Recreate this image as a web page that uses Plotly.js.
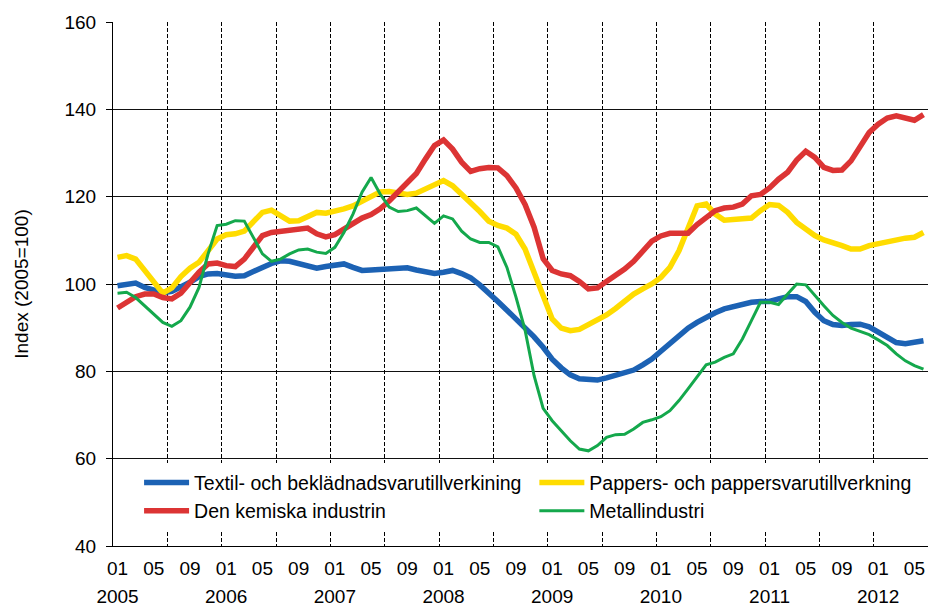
<!DOCTYPE html>
<html><head><meta charset="utf-8">
<script src="https://cdn.plot.ly/plotly-3.0.1.min.js"></script>
<style>html,body{margin:0;padding:0;background:#fff}</style>
</head><body>
<div id="chart" style="width:929px;height:607px"></div>
<script>
const years = ['2005','2006','2007','2008','2009','2010','2011','2012'];
const tickMonths = ['01','05','09'];
const seriesNames = [
  'Textil- och beklädnadsvarutillverkining',
  'Pappers- och pappersvarutillverkning',
  'Den kemiska industrin',
  'Metallindustri'
];
const textil = [99.6,100.0,100.2,99.2,98.5,98.0,98.3,99.2,100.4,101.7,
 102.3,102.4,102.1,101.8,101.9,102.7,103.8,104.7,105.3,105.2,
 104.7,104.0,103.6,104.0,104.4,104.6,103.8,103.1,103.2,103.4,
 103.6,103.8,103.7,103.2,102.7,102.4,102.7,103.1,102.4,101.4,
 99.8,98.1,96.0,94.0,92.0,90.0,87.9,85.5,82.8,80.8,
 79.2,78.3,78.0,78.0,78.5,79.0,79.5,80.3,81.5,82.8,
 84.6,86.4,88.2,89.9,91.2,92.4,93.4,94.3,94.8,95.4,
 95.8,96.0,96.0,96.6,97.1,97.1,96.0,93.5,91.6,90.7,
 90.5,90.7,90.8,90.2,88.9,87.6,86.6,86.3,86.6,87.0];
const pappers = [106.1,106.5,105.7,103.1,100.0,97.9,99.1,101.7,103.6,105.0,
 107.6,110.3,111.3,111.5,112.1,114.4,116.4,116.9,115.6,114.4,
 114.5,115.4,116.4,116.2,116.6,117.2,117.9,118.9,120.2,121.1,
 121.2,120.9,120.5,120.8,121.8,122.7,123.7,122.5,120.6,118.5,
 116.6,114.4,113.4,112.8,111.4,108.0,102.7,96.6,92.0,89.9,
 89.3,89.6,90.6,91.6,92.9,94.4,96.2,97.7,98.9,100.0,
 101.5,103.8,107.6,113.0,117.9,118.3,116.0,114.6,114.7,114.7,
 115.1,116.8,118.2,118.0,116.4,114.1,112.6,111.1,110.1,109.6,
 108.8,108.0,108.0,108.8,109.3,109.8,110.1,110.5,110.7,111.8];
const kemiska = [94.5,95.8,97.1,97.7,97.7,96.9,96.6,97.9,100.4,102.7,
 104.6,104.8,104.2,104.0,105.7,108.5,111.1,111.8,112.1,112.2,
 112.6,112.8,111.5,110.8,111.3,112.6,114.1,115.1,115.9,117.2,
 119.0,121.0,123.1,125.3,128.6,131.7,133.0,130.9,127.9,125.8,
 126.4,126.7,126.6,124.8,122.0,118.2,113.0,105.8,103.1,102.3,
 101.9,100.6,98.9,99.1,100.6,101.9,103.4,105.2,107.6,109.8,
 111.0,111.6,111.6,111.6,113.6,115.3,116.8,117.4,117.6,118.3,
 120.2,120.5,122.0,124.0,125.6,128.4,130.4,129.0,126.7,126.0,
 126.1,128.2,131.7,134.7,136.6,138.0,138.5,138.0,137.5,138.8];
const metall = [97.9,98.1,96.9,95.0,93.3,91.2,90.3,91.6,94.7,99.2,
 106.9,113.4,113.7,114.5,114.4,110.7,106.9,105.2,105.7,106.9,
 107.8,108.0,107.3,107.0,108.4,111.8,116.0,121.0,124.4,120.6,
 117.6,116.6,116.8,117.4,115.6,113.9,115.6,114.9,112.1,110.3,
 109.5,109.5,108.5,103.8,97.0,89.5,79.0,71.5,68.7,66.4,
 64.1,62.2,61.8,63.0,64.9,65.5,65.6,66.8,68.3,68.9,
 69.6,71.0,73.3,76.0,78.8,81.5,82.1,83.2,84.0,87.4,
 91.6,95.8,95.8,95.3,97.7,100.0,99.8,97.3,95.0,92.8,
 91.2,89.9,89.2,88.4,87.2,85.9,84.0,82.4,81.3,80.5];
const colors = ['#1c62b4','#ffdc00','#dc3434','#14a84c'];
const widths = [5.5,5.5,5.5,3];
const legendIds = ['legend','legend2','legend','legend2'];

const n = textil.length;
const idx = textil.map((_, i) => i);
const monthTickVals = [], monthTickText = [], yearTickVals = [];
years.forEach((yr, k) => {
  tickMonths.forEach(m => {
    const i = k * 12 + (parseInt(m, 10) - 1);
    if (i < n) { monthTickVals.push(i); monthTickText.push(m); }
  });
  yearTickVals.push(k * 12);
});

const FONT = 'Liberation Sans, Arial, sans-serif';
const series = [textil, pappers, kemiska, metall];
const traces = series.map((s, k) => ({
  type: 'scatter', mode: 'lines', x: idx, y: s, name: seriesNames[k],
  legend: legendIds[k],
  line: {color: colors[k], width: widths[k]}
}));
// empty helper traces so the overlay axes (dashed grid, year labels) are drawn
traces.unshift({type: 'scatter', mode: 'lines', x: [null], y: [null], xaxis: 'x2', showlegend: false, hoverinfo: 'skip'});
traces.unshift({type: 'scatter', mode: 'lines', x: [null], y: [null], xaxis: 'x3', showlegend: false, hoverinfo: 'skip'});

const legendBase = {orientation: 'v', xanchor: 'left', yanchor: 'top', y: 0.158,
  bgcolor: '#fff', itemwidth: 45, tracegroupgap: 0,
  font: {family: FONT, size: 19.5, color: '#000'}};

const xr = [-0.5, n - 0.5];
const layout = {
  width: 929, height: 607,
  margin: {l: 113, r: 1, t: 22, b: 61},
  paper_bgcolor: '#fff', plot_bgcolor: '#fff',
  font: {family: FONT, size: 19, color: '#000'},
  showlegend: true,
  legend: Object.assign({}, legendBase, {x: 0.032}),
  legend2: Object.assign({}, legendBase, {x: 0.517}),
  xaxis: {range: xr, tickmode: 'array', tickvals: monthTickVals, ticktext: monthTickText,
    showgrid: false, zeroline: false, showline: true, linecolor: '#000', linewidth: 1,
    ticks: '', ticklabelstandoff: 5, tickfont: {size: 19}},
  xaxis2: {overlaying: 'x', anchor: 'y', range: xr, tickmode: 'linear', tick0: -0.5, dtick: 6,
    showgrid: true, gridcolor: '#000', gridwidth: 1, griddash: '4px,2px',
    showticklabels: false, ticks: '', showline: false, zeroline: false},
  xaxis3: {overlaying: 'x', anchor: 'y', range: xr, tickmode: 'array', tickvals: yearTickVals,
    ticktext: years, showgrid: false, showline: false, zeroline: false, ticks: '',
    ticklabelstandoff: 37, tickfont: {size: 19}},
  yaxis: {range: [40, 160], tick0: 40, dtick: 20, showgrid: true, gridcolor: '#111', gridwidth: 1,
    showline: true, linecolor: '#000', linewidth: 1, ticks: 'outside', ticklen: 6, tickcolor: '#000',
    zeroline: false, ticklabelstandoff: 6, tickfont: {size: 19},
    title: {text: 'Index (2005=100)', font: {size: 19}, standoff: 30}}
};
Plotly.newPlot('chart', traces, layout, {staticPlot: true, displayModeBar: false});
</script>
</body></html>
